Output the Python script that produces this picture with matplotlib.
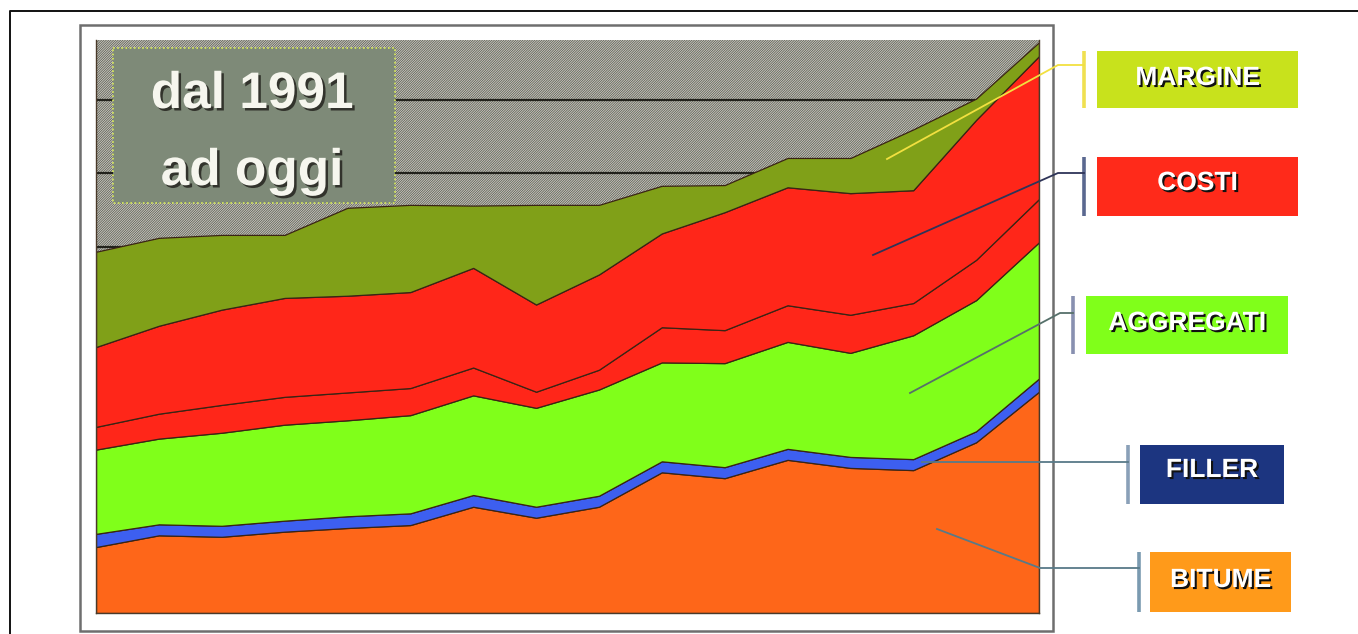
import matplotlib
matplotlib.use("Agg")
import matplotlib.pyplot as plt
import matplotlib.patheffects as pe
from matplotlib.patches import Rectangle

# stacked cost components, one value per year (arbitrary units)
years = list(range(1991, 2007))
bitume = [0.90, 1.06, 1.04, 1.11, 1.16, 1.20, 1.45, 1.30, 1.45, 1.92, 1.84, 2.09, 1.98, 1.95, 2.33, 3.02]
filler = [0.18, 0.15, 0.15, 0.15, 0.16, 0.16, 0.16, 0.15, 0.15, 0.15, 0.15, 0.15, 0.15, 0.15, 0.15, 0.18]
aggregati = [1.15, 1.17, 1.27, 1.31, 1.31, 1.34, 1.36, 1.35, 1.45, 1.35, 1.42, 1.46, 1.42, 1.69, 1.79, 1.86]
costi_1 = [0.31, 0.34, 0.38, 0.38, 0.38, 0.37, 0.38, 0.22, 0.27, 0.48, 0.45, 0.50, 0.52, 0.44, 0.55, 0.59]
costi_2 = [1.09, 1.20, 1.30, 1.35, 1.32, 1.31, 1.36, 1.19, 1.30, 1.28, 1.61, 1.61, 1.66, 1.54, 1.91, 1.95]
margine = [1.30, 1.20, 1.02, 0.86, 1.20, 1.19, 0.85, 1.36, 0.95, 0.65, 0.37, 0.40, 0.48, 0.83, 0.29, 0.19]

series_colors = ["#fe6619", "#3d5ff0", "#80ff1a", "#ff2619", "#ff2619", "#80a018"]
label_names = ["MARGINE", "COSTI", "AGGREGATI", "FILLER", "BITUME"]
box_colors = ["#c8e21c", "#ff2a1a", "#80ff1a", "#1c3580", "#ff9a1a"]
title_text = "dal 1991\nad oggi"

plt.rcParams["hatch.linewidth"] = 0.7

W, H = 1358, 634
fig = plt.figure(figsize=(W / 100, H / 100), dpi=100)
fig.patch.set_facecolor("white")

# plot area in pixel terms: x 96..1039, y 40..613
ax = fig.add_axes([96 / W, (H - 613) / H, 943 / W, 573 / H])
ax.add_patch(Rectangle((0, 0), 1, 1, transform=ax.transAxes, facecolor="#55554e",
                       edgecolor="#c8c8be", hatch="/" * 14, lw=0, zorder=0))
ax.stackplot(years, bitume, filler, aggregati, costi_1, costi_2, margine,
             colors=series_colors, edgecolor="#3a2414", linewidth=0.9, zorder=2)
ax.set_xlim(years[0], years[-1])
ax.set_ylim(0, 7.82)
ax.set_yticks(range(1, 8))
ax.set_xticks([])
ax.tick_params(left=False, labelleft=False)
ax.set_axisbelow(True)
ax.grid(axis="y", color="#22221c", lw=1.6, zorder=1)
for s in ("left", "bottom", "right"):
    ax.spines[s].set_color("#4a3a2a")
    ax.spines[s].set_linewidth(1.0)
ax.spines["top"].set_visible(False)

# overlay in pixel coordinates for frames, boxes and leader lines
ov = fig.add_axes([0, 0, 1, 1], zorder=5)
ov.set_xlim(0, W)
ov.set_ylim(H, 0)
ov.axis("off")
ov.patch.set_alpha(0)

# page border and chart frame
ov.plot([10, 10, W], [H, 11, 11], color="#111111", lw=1.4)
ov.add_patch(Rectangle((80, 25), 973, 606, fill=False, edgecolor="#6e6e6e", lw=1.8))

# "dal 1991 ad oggi" box
ov.add_patch(Rectangle((113, 48), 282, 155, facecolor="#7e8a78", edgecolor="#d8ea5a",
                       lw=1.2, ls=(0, (1, 1.5))))
shadow = [pe.withSimplePatchShadow(offset=(1.8, -1.8), shadow_rgbFace="#2a2a24", alpha=0.9)]
for line, base in zip(title_text.split("\n"), [108, 185]):
    ov.text(252, base, line, ha="center", va="baseline", fontsize=37, fontweight="bold",
            family="Liberation Sans", color="#f6f6ee", path_effects=shadow)

# label boxes: (x0, y0, x1, y1), text baseline, bar x, bar colour, leader path, leader colour
boxes = [
    ((1097, 51, 1298, 108), 85, 1084, "#f0e050", [(887, 159), (1058, 65), (1084, 65)], "#f2e040"),
    ((1097, 157, 1298, 216), 190, 1084, "#5a6890", [(873, 255), (1058, 173), (1084, 173)], "#2e3458"),
    ((1086, 296, 1288, 354), 330, 1073, "#8890b0", [(910, 393), (1060, 313), (1073, 313)], "#56706a"),
    ((1140, 445, 1284, 504), 477, 1128, "#8aa0b8", [(922, 462), (1128, 462)], "#587a88"),
    ((1150, 552, 1291, 612), 587, 1139, "#7a9ab0", [(937, 529), (1040, 568), (1139, 568)], "#587a88"),
]
txt_shadow = [pe.withSimplePatchShadow(offset=(1.5, -1.5), shadow_rgbFace="#111111", alpha=1.0)]
for name, col, (rect, base, bx, bcol, path, lcol) in zip(label_names, box_colors, boxes):
    x0, y0, x1, y1 = rect
    ov.add_patch(Rectangle((x0, y0), x1 - x0, y1 - y0, facecolor=col, lw=0))
    ov.plot([bx, bx], [y0, y1], color=bcol, lw=2.6, solid_capstyle="butt")
    px, py = zip(*path)
    ov.plot(px, py, color=lcol, lw=1.3)
    ov.text((x0 + x1) / 2, base, name, ha="center", va="baseline", fontsize=19,
            fontweight="bold", family="Liberation Sans", color="white", path_effects=txt_shadow)

fig.savefig("out.png", dpi=100)
